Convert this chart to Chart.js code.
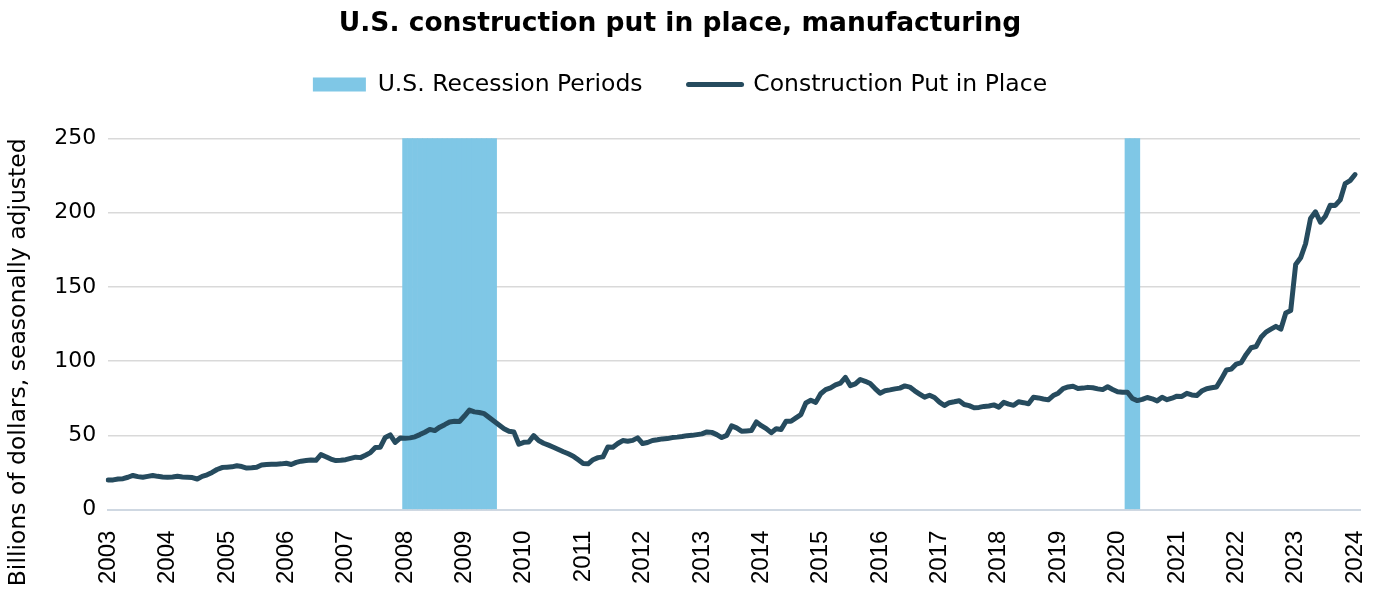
<!DOCTYPE html>
<html>
<head>
<meta charset="utf-8">
<title>U.S. construction put in place, manufacturing</title>
<script src="https://cdn.jsdelivr.net/npm/chart.js@4.4.1/dist/chart.umd.min.js"></script>
<style>
    html, body { margin: 0; padding: 0; background: #fff; }
    #wrap { width: 1376px; height: 601px; }
</style>
</head>
<body>
<div id="wrap"><canvas id="constructionChart"></canvas></div>
<script>
// x axis tick labels (one per January)
const tickYears = ['2003', '2004', '2005', '2006', '2007', '2008', '2009', '2010', '2011', '2012', '2013',
    '2014', '2015', '2016', '2017', '2018', '2019', '2020', '2021', '2022', '2023', '2024'];

// monthly values, billions of dollars SA, Jan 2003 .. Jan 2024
const construction = [
    19.9, 20.0, 20.6, 20.8, 21.8, 23.0, 22.2, 21.8, 22.4, 23.0, 22.4, 22.0,   // 2003
    21.8, 22.0, 22.4, 22.0, 21.8, 21.6, 20.6, 22.4, 23.4, 25.0, 27.0, 28.3,   // 2004
    28.6, 28.8, 29.5, 29.0, 28.0, 28.2, 28.5, 30.0, 30.3, 30.5, 30.6, 30.8,   // 2005
    31.2, 30.4, 31.8, 32.6, 33.0, 33.4, 33.2, 37.0, 35.6, 34.0, 33.0, 33.2,   // 2006
    33.6, 34.5, 35.3, 35.0, 36.6, 38.4, 41.8, 42.0, 48.6, 50.3, 45.2, 48.2,   // 2007
    48.0, 48.3, 49.0, 50.5, 52.1, 54.0, 53.2, 55.5, 57.2, 59.0, 59.5, 59.3,   // 2008
    63.0, 67.0, 65.8, 65.4, 64.6, 62.0, 59.5, 57.0, 54.5, 52.8, 52.2, 44.0,   // 2009
    45.3, 45.5, 49.8, 46.5, 44.7, 43.4, 42.0, 40.5, 39.0, 37.6, 36.0, 33.5,   // 2010
    31.0, 30.8, 33.6, 35.0, 35.5, 42.2, 42.0, 44.5, 46.5, 46.0, 46.6, 48.3,   // 2011
    44.5, 45.2, 46.5, 47.0, 47.6, 47.8, 48.5, 48.8, 49.2, 49.8, 50.0, 50.5,   // 2012
    51.0, 52.3, 52.0, 50.5, 48.5, 50.0, 56.4, 55.0, 52.8, 53.0, 53.2, 59.0,   // 2013
    56.5, 54.5, 51.8, 54.4, 53.9, 59.5, 59.5, 61.8, 64.0, 71.8, 73.6, 72.2,   // 2014
    78.0, 80.8, 82.0, 84.0, 85.2, 89.0, 83.5, 84.7, 87.6, 86.4, 84.9, 81.5,   // 2015
    78.4, 80.0, 80.6, 81.3, 81.8, 83.3, 82.5, 80.0, 77.8, 75.7, 77.0, 75.5,   // 2016
    72.4, 70.1, 72.0, 72.6, 73.3, 70.8, 70.0, 68.6, 68.8, 69.5, 69.8, 70.5,   // 2017
    69.0, 72.2, 71.0, 70.2, 72.6, 72.0, 71.3, 75.6, 75.2, 74.5, 73.9, 76.8,   // 2018
    78.4, 81.5, 82.6, 83.1, 81.6, 81.8, 82.3, 82.0, 81.3, 80.8, 82.7, 80.9,   // 2019
    79.4, 79.0, 79.0, 74.8, 73.4, 74.2, 75.5, 74.6, 73.2, 75.6, 74.0, 75.0,   // 2020
    76.4, 76.2, 78.3, 77.2, 76.8, 79.8, 81.4, 82.0, 82.5, 88.0, 94.0, 94.6,   // 2021
    98.0, 99.0, 104.5, 109.0, 109.8, 116.0, 119.5, 121.5, 123.4, 121.5, 132.4, 134.0, // 2022
    165.0, 169.5, 179.0, 196.0, 200.5, 193.5, 197.5, 205.0, 204.8, 208.5, 219.5, 221.5, // 2023
    225.6                                                                      // 2024
];

// recession months as plotted (first and last month of each shaded band)
const recessionStart = ['2008-01', '2020-03'];
const recessionEnd = ['2009-07', '2020-05'];

const yMax = 250;

// monthly category labels, plus one spare month after the last value
const months = [];
tickYears.forEach(y => {
    for (let m = 1; m <= 12; m++) months.push(`${y}-${String(m).padStart(2, '0')}`);
});
const labels = months.slice(0, construction.length + 1);

const recessionBars = labels.map(l =>
    recessionStart.some((s, k) => l >= s && l <= recessionEnd[k]) ? yMax : null
);

// extra room between the legend and the plot
const legendSpacing = {
    id: 'legendSpacing',
    beforeInit(chart) {
        const fit = chart.legend.fit;
        chart.legend.fit = function () {
            fit.bind(chart.legend)();
            this.height += 32;
        };
    }
};

const ctx = document.getElementById('constructionChart').getContext('2d');

new Chart(ctx, {
    type: 'line',
    data: {
        labels: labels,
        datasets: [
            {
                type: 'bar',
                label: 'U.S. Recession Periods',
                data: recessionBars,
                backgroundColor: '#7FC7E6',
                borderColor: '#7FC7E6',
                borderWidth: 0,
                barPercentage: 1,
                categoryPercentage: 1,
                order: 2
            },
            {
                type: 'line',
                label: 'Construction Put in Place',
                data: construction,
                borderColor: '#264B5E',
                backgroundColor: '#264B5E',
                borderWidth: 5,
                pointRadius: 0,
                tension: 0,
                borderJoinStyle: 'round',
                borderCapStyle: 'round',
                order: 1
            }
        ]
    },
    options: {
        responsive: true,
        maintainAspectRatio: false,
        animation: false,
        layout: { padding: { bottom: 17, right: 16 } },
        plugins: {
            title: {
                display: true,
                text: 'U.S. construction put in place, manufacturing',
                color: '#000',
                font: { family: 'DejaVu Sans', size: 26.5, weight: 'bold' },
                padding: { top: 8, bottom: -13 }
            },
            legend: {
                display: true,
                labels: {
                    color: '#000',
                    font: { family: 'DejaVu Sans', size: 23.5 },
                    usePointStyle: true,
                    pointStyleWidth: 53,
                    boxHeight: 14,
                    padding: 46,
                    generateLabels: chart => chart.data.datasets.map((ds, i) => ({
                        text: ds.label,
                        datasetIndex: i,
                        fillStyle: ds.backgroundColor,
                        strokeStyle: ds.borderColor,
                        lineWidth: i === 0 ? 0 : 5,
                        lineCap: 'round',
                        pointStyle: i === 0 ? 'rect' : 'line',
                        hidden: false
                    }))
                }
            },
            tooltip: { enabled: false }
        },
        scales: {
            x: {
                type: 'category',
                offset: false,
                grid: { display: false, drawTicks: true, tickLength: 21 },
                border: { display: true, color: '#CFD8E2', width: 2 },
                ticks: {
                    autoSkip: false,
                    maxRotation: 90,
                    minRotation: 90,
                    padding: 0,
                    color: '#000',
                    font: { family: 'Liberation Sans', size: 24 },
                    callback: (value, i) => (i % 12 === 0 ? tickYears[i / 12] : null)
                },
                // the spare last month has no label, so don't reserve room for one
                afterFit: scale => { scale.paddingRight = 0; }
            },
            y: {
                min: 0,
                max: yMax,
                grid: { color: '#D9D9D9', lineWidth: 1.5, drawTicks: false },
                border: { display: false },
                ticks: {
                    stepSize: 50,
                    padding: 12,
                    color: '#000',
                    font: { family: 'DejaVu Sans', size: 22 }
                },
                title: {
                    display: true,
                    text: 'Billions of dollars, seasonally adjusted',
                    align: 'end',
                    color: '#000',
                    font: { family: 'DejaVu Sans', size: 23.5 },
                    padding: { top: 5, bottom: 9 }
                }
            }
        }
    },
    plugins: [legendSpacing]
});
</script>
</body>
</html>
